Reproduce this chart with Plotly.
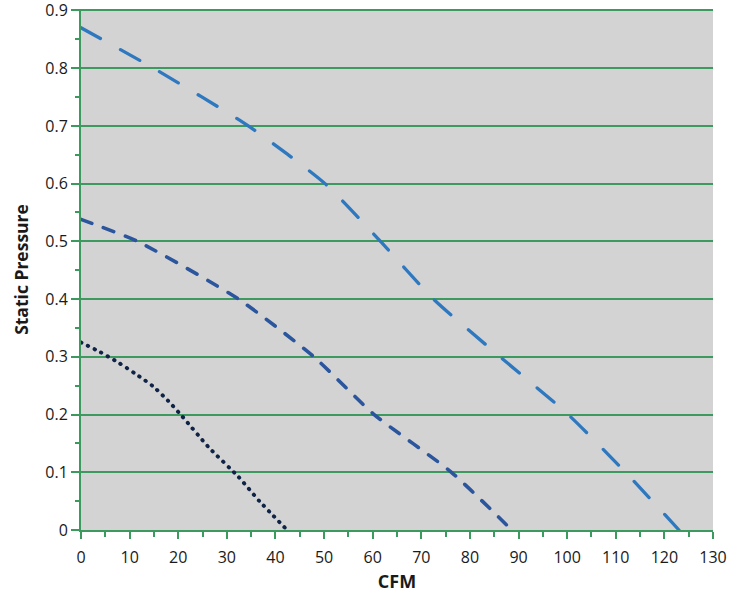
import plotly.graph_objects as go

# Curve readings (CFM, static pressure)
fan_a_cfm = [0, 14.9, 34.4, 50.2, 61.6, 72.5, 86.2, 100.2, 112, 123]
fan_a_sp = [0.87, 0.80, 0.70, 0.60, 0.50, 0.40, 0.30, 0.20, 0.10, 0.0]

fan_b_cfm = [0, 11.6, 32.4, 47.9, 60.3, 76.2, 88.6]
fan_b_sp = [0.538, 0.50, 0.40, 0.30, 0.20, 0.10, 0.0]

fan_c_cfm = [0, 4.0, 7.7, 11.3, 14.8, 17.9, 20.8, 26.3, 32.4, 36.7, 42.4]
fan_c_sp = [0.325, 0.308, 0.290, 0.270, 0.249, 0.224, 0.197, 0.143, 0.092, 0.050, 0.0]

x_ticks = list(range(0, 131, 10))
y_ticks = [0, 0.1, 0.2, 0.3, 0.4, 0.5, 0.6, 0.7, 0.8, 0.9]
y_labels = ["0", "0.1", "0.2", "0.3", "0.4", "0.5", "0.6", "0.7", "0.8", "0.9"]

GREEN = "#3d9a5e"
FONT = "Open Sans"

fig = go.Figure()
fig.add_trace(go.Scatter(x=fan_a_cfm, y=fan_a_sp, mode="lines",
                         line=dict(color="#2e78c0", width=3.3, dash="22px,23px", shape="spline", smoothing=0.6),
                         showlegend=False, hoverinfo="skip"))
fig.add_trace(go.Scatter(x=fan_b_cfm, y=fan_b_sp, mode="lines",
                         line=dict(color="#2b559c", width=3.6, dash="11px,12.5px", shape="spline", smoothing=0.6),
                         showlegend=False, hoverinfo="skip"))
fig.add_trace(go.Scatter(x=fan_c_cfm, y=fan_c_sp, mode="lines",
                         line=dict(color="#0f2347", width=3.9, dash="0.5px,7px", shape="spline", smoothing=0.6),
                         showlegend=False, hoverinfo="skip"))

fig.update_layout(
    width=744, height=593,
    margin=dict(l=81, r=31, t=9, b=63, autoexpand=False),
    paper_bgcolor="white",
    plot_bgcolor="#d3d3d3",
    font=dict(family=FONT, size=16, color="#1a1a1a"),
    xaxis=dict(range=[0, 130], tickvals=x_ticks, showgrid=False, zeroline=False,
               showline=True, linecolor=GREEN, linewidth=2, automargin=False,
               ticks="outside", ticklen=7, tickwidth=2, tickcolor=GREEN, ticklabelstandoff=5,
               ticklabeloverflow="allow",
               minor=dict(dtick=5, ticks="outside", ticklen=5, tickwidth=2, tickcolor=GREEN, showgrid=False),
               title=dict(text="<b>CFM</b>", font=dict(size=18), standoff=10)),
    yaxis=dict(range=[0, 0.9025], tickvals=y_ticks, ticktext=y_labels, showgrid=True, gridcolor=GREEN, gridwidth=2,
               zeroline=False, showline=True, linecolor=GREEN, linewidth=2, automargin=False,
               ticks="outside", ticklen=8, tickwidth=2, tickcolor=GREEN, ticklabeloverflow="allow",
               minor=dict(tickvals=[0.05, 0.15, 0.25, 0.35, 0.45, 0.55, 0.65, 0.75, 0.85],
                          ticks="outside", ticklen=4, tickwidth=2, tickcolor=GREEN, showgrid=False),
               title=dict(text="<b>Static Pressure</b>", font=dict(size=17.5), standoff=12)),
)

fig.write_html(
    "out.html", config={"displayModeBar": False},
    post_script=(
        "document.body.style.margin='0';"
        "document.querySelectorAll('.scatterlayer .js-line').forEach(function(e){e.style.strokeLinecap='round';});"
    ),
)
